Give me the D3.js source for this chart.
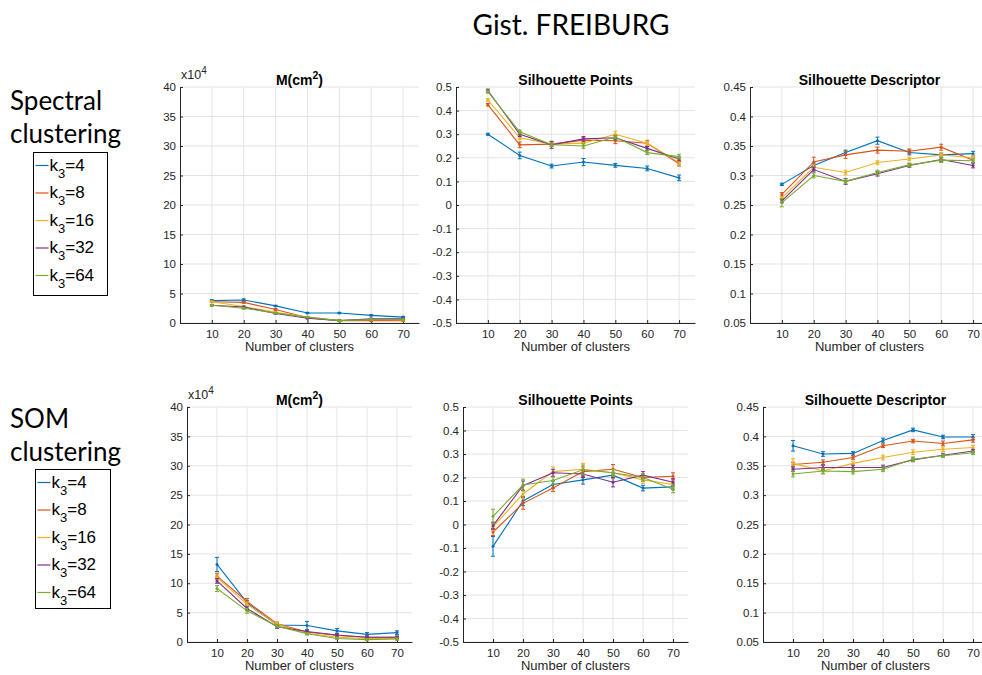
<!DOCTYPE html>
<html><head><meta charset="utf-8">
<script src="https://cdn.jsdelivr.net/npm/d3@7"></script>
<style>body{margin:0;background:#fff}svg{display:block}</style>
</head><body>
<svg id="fig" width="982" height="675"></svg>
<script>
// Number of clusters on the x axis
const clusters = [10, 20, 30, 40, 50, 60, 70];
const seriesNames = ["4", "8", "16", "32", "64"];
const seriesColors = ["#0072BD", "#D95319", "#EDB120", "#7E2F8E", "#77AC30"];

const xTicks = [10, 20, 30, 40, 50, 60, 70];
const mTicks = [0, 5, 10, 15, 20, 25, 30, 35, 40];
const spTicks = [-0.5, -0.4, -0.3, -0.2, -0.1, 0, 0.1, 0.2, 0.3, 0.4, 0.5];
const sdTicks = [0.05, 0.1, 0.15, 0.2, 0.25, 0.3, 0.35, 0.4, 0.45];

// Spectral clustering: M (x10^4 cm^2), one row per k3
const spectralM = [
  [3.8, 3.9, 2.9, 1.7, 1.7, 1.3, 1.0],
  [3.6, 3.5, 2.3, 0.9, 0.4, 0.4, 0.4],
  [3.6, 2.8, 1.8, 1.0, 0.4, 0.6, 0.5],
  [3.0, 2.7, 1.6, 0.8, 0.4, 0.7, 0.7],
  [3.0, 2.5, 1.7, 1.0, 0.4, 0.6, 0.6]
];
const spectralMErr = [
  [0.15, 0.2, 0.1, 0.1, 0.1, 0.1, 0.1],
  [0.15, 0.15, 0.15, 0.1, 0.1, 0.1, 0.1],
  [0.1, 0.1, 0.1, 0.1, 0.1, 0.1, 0.1],
  [0.1, 0.15, 0.1, 0.1, 0.1, 0.1, 0.1],
  [0.1, 0.15, 0.1, 0.1, 0.1, 0.1, 0.1]
];

// Spectral clustering: silhouette of points
const spectralSP = [
  [0.300, 0.210, 0.165, 0.182, 0.168, 0.155, 0.115],
  [0.425, 0.255, 0.258, 0.275, 0.272, 0.262, 0.175],
  [0.445, 0.285, 0.258, 0.262, 0.300, 0.262, 0.180],
  [0.485, 0.300, 0.255, 0.280, 0.285, 0.240, 0.195],
  [0.480, 0.310, 0.255, 0.250, 0.288, 0.222, 0.205]
];
const spectralSPErr = [
  [0.004, 0.014, 0.008, 0.015, 0.008, 0.010, 0.012],
  [0.005, 0.012, 0.010, 0.010, 0.012, 0.012, 0.010],
  [0.005, 0.008, 0.008, 0.008, 0.012, 0.008, 0.010],
  [0.006, 0.010, 0.015, 0.010, 0.008, 0.008, 0.008],
  [0.006, 0.008, 0.008, 0.010, 0.008, 0.008, 0.010]
];

// Spectral clustering: silhouette of descriptors
const spectralSD = [
  [0.285, 0.317, 0.339, 0.359, 0.339, 0.335, 0.337],
  [0.268, 0.323, 0.335, 0.343, 0.341, 0.348, 0.326],
  [0.262, 0.314, 0.305, 0.322, 0.328, 0.335, 0.330],
  [0.257, 0.310, 0.290, 0.303, 0.317, 0.327, 0.317],
  [0.254, 0.300, 0.290, 0.305, 0.318, 0.326, 0.325]
];
const spectralSDErr = [
  [0.002, 0.004, 0.004, 0.006, 0.004, 0.003, 0.004],
  [0.003, 0.008, 0.006, 0.005, 0.004, 0.005, 0.004],
  [0.002, 0.004, 0.004, 0.003, 0.003, 0.003, 0.004],
  [0.003, 0.004, 0.005, 0.004, 0.003, 0.003, 0.004],
  [0.007, 0.004, 0.004, 0.004, 0.003, 0.004, 0.003]
];

// SOM clustering: M (x10^4 cm^2)
const somM = [
  [13.2, 6.7, 2.9, 2.8, 1.9, 1.3, 1.6],
  [11.2, 6.9, 3.1, 1.7, 1.1, 0.8, 0.8],
  [11.0, 6.4, 3.0, 1.5, 0.8, 0.6, 0.6],
  [10.4, 5.7, 2.6, 1.8, 1.2, 0.8, 0.8],
  [9.1, 5.3, 2.7, 1.4, 0.6, 0.4, 0.5]
];
const somMErr = [
  [1.2, 0.4, 0.3, 0.7, 0.4, 0.3, 0.3],
  [0.5, 0.5, 0.3, 0.2, 0.2, 0.2, 0.2],
  [0.4, 0.4, 0.3, 0.2, 0.2, 0.2, 0.2],
  [0.4, 0.3, 0.3, 0.2, 0.2, 0.2, 0.2],
  [0.5, 0.4, 0.3, 0.2, 0.2, 0.2, 0.2]
];

// SOM clustering: silhouette of points
const somSP = [
  [-0.093, 0.100, 0.170, 0.190, 0.210, 0.155, 0.160],
  [-0.032, 0.090, 0.155, 0.225, 0.235, 0.200, 0.205],
  [-0.010, 0.130, 0.225, 0.235, 0.220, 0.190, 0.170],
  [-0.005, 0.165, 0.220, 0.215, 0.180, 0.210, 0.180],
  [0.035, 0.168, 0.187, 0.233, 0.220, 0.200, 0.150]
];
const somSPErr = [
  [0.042, 0.020, 0.015, 0.018, 0.012, 0.012, 0.012],
  [0.015, 0.025, 0.015, 0.020, 0.020, 0.015, 0.015],
  [0.015, 0.020, 0.020, 0.025, 0.015, 0.015, 0.015],
  [0.015, 0.020, 0.015, 0.015, 0.020, 0.015, 0.015],
  [0.030, 0.025, 0.015, 0.020, 0.015, 0.015, 0.015]
];

// SOM clustering: silhouette of descriptors
const somSD = [
  [0.384, 0.370, 0.371, 0.393, 0.411, 0.399, 0.399],
  [0.352, 0.356, 0.364, 0.384, 0.392, 0.388, 0.394],
  [0.354, 0.341, 0.354, 0.364, 0.373, 0.378, 0.381],
  [0.344, 0.347, 0.347, 0.347, 0.360, 0.368, 0.375],
  [0.336, 0.341, 0.340, 0.344, 0.361, 0.367, 0.372]
];
const somSDErr = [
  [0.009, 0.004, 0.003, 0.004, 0.003, 0.003, 0.004],
  [0.004, 0.004, 0.003, 0.003, 0.003, 0.004, 0.004],
  [0.008, 0.004, 0.004, 0.004, 0.004, 0.004, 0.004],
  [0.004, 0.004, 0.004, 0.004, 0.003, 0.003, 0.003],
  [0.005, 0.005, 0.004, 0.004, 0.004, 0.003, 0.003]
];

const svg = d3.select("#fig");
const AX = "#262626";
const GRID = "#e3e3e3";
const HELV = "'Liberation Sans', Arial, Helvetica, sans-serif";
const HUMAN = "Lato, 'Open Sans', sans-serif";

svg.append("rect").attr("width", 982).attr("height", 675).attr("fill", "#fff");

// Figure heading and row labels
svg.append("text").attr("x", 571).attr("y", 35).attr("text-anchor", "middle")
  .attr("font-family", HUMAN).attr("font-size", 28).attr("fill", "#000")
  .text("Gist. FREIBURG");

function rowLabel(lines, x, y0) {
  lines.forEach((t, i) => {
    svg.append("text").attr("x", x).attr("y", y0 + i * 33)
      .attr("font-family", HUMAN).attr("font-size", 26).attr("fill", "#000").text(t);
  });
}
rowLabel(["Spectral", "clustering"], 10, 110);
rowLabel(["SOM", "clustering"], 10, 428);

function legend(x, y, w, h, rowStep) {
  const g = svg.append("g").attr("transform", `translate(${x},${y})`);
  g.append("rect").attr("width", w).attr("height", h).attr("fill", "#fff")
    .attr("stroke", "#000").attr("stroke-width", 1);
  seriesNames.forEach((name, i) => {
    const cy = 13 + i * rowStep;
    g.append("line").attr("x1", 2).attr("x2", 15).attr("y1", cy).attr("y2", cy)
      .attr("stroke", seriesColors[i]).attr("stroke-width", 1.2);
    const t = g.append("text").attr("x", 16).attr("y", cy + 5)
      .attr("font-family", HELV).attr("font-size", 17).attr("fill", "#000");
    t.append("tspan").text("k");
    t.append("tspan").attr("dy", 7).attr("font-size", 13).text("3");
    t.append("tspan").attr("dy", -7).text("=" + name);
  });
}
legend(33.5, 152.5, 74, 143, 27.5);
legend(35.5, 469.5, 75, 139, 27.5);

function fmt(v) {
  if (Math.abs(v) < 1e-9) return "0";
  return String(+v.toFixed(2));
}

function panel(opt) {
  const { left, top, width, height, domain, ticks, title, data, err, sci } = opt;
  const x = d3.scaleLinear().domain([0, 75]).range([left, left + width]);
  const y = d3.scaleLinear().domain(domain).range([top + height, top]);
  const g = svg.append("g");

  // grid
  g.selectAll(".gy").data(ticks).join("line")
    .attr("x1", left).attr("x2", left + width)
    .attr("y1", d => y(d)).attr("y2", d => y(d))
    .attr("stroke", GRID).attr("stroke-width", 1);
  g.selectAll(".gx").data(xTicks).join("line")
    .attr("x1", d => x(d)).attr("x2", d => x(d))
    .attr("y1", top).attr("y2", top + height)
    .attr("stroke", GRID).attr("stroke-width", 1);

  // axes
  const yAxis = d3.axisLeft(y).tickValues(ticks).tickFormat(fmt).tickSizeInner(-3).tickSizeOuter(0).tickPadding(4);
  const xAxis = d3.axisBottom(x).tickValues(xTicks).tickFormat(d3.format("d")).tickSizeInner(-3).tickSizeOuter(0).tickPadding(7);
  const ya = g.append("g").attr("transform", `translate(${left},0)`).call(yAxis);
  const xa = g.append("g").attr("transform", `translate(0,${top + height})`).call(xAxis);
  [ya, xa].forEach(a => {
    a.select(".domain").attr("stroke", AX);
    a.selectAll(".tick line").attr("stroke", AX);
    a.selectAll("text").attr("fill", AX).attr("font-family", HELV).attr("font-size", 11.5);
  });

  // title and axis label
  const tt = g.append("text").attr("x", left + width / 2).attr("y", top - 2)
    .attr("text-anchor", "middle").attr("font-family", HELV).attr("font-weight", "bold")
    .attr("font-size", 14).attr("fill", "#000");
  if (title === "M") {
    tt.append("tspan").text("M(cm");
    tt.append("tspan").attr("dy", -6).attr("font-size", 10.5).text("2");
    tt.append("tspan").attr("dy", 6).text(")");
  } else {
    tt.text(title);
  }
  g.append("text").attr("x", left + width / 2).attr("y", top + height + 28)
    .attr("text-anchor", "middle").attr("font-family", HELV).attr("font-size", 13)
    .attr("fill", AX).text("Number of clusters");
  if (sci) {
    const s = g.append("text").attr("x", left + 1).attr("y", top - 8)
      .attr("font-family", HELV).attr("font-size", 12.5).attr("fill", AX);
    s.append("tspan").text("x10");
    s.append("tspan").attr("dy", -5).attr("font-size", 10).text("4");
  }

  // series
  const line = d3.line().x((d, i) => x(clusters[i])).y(d => y(d));
  data.forEach((vals, si) => {
    const c = seriesColors[si];
    const sg = g.append("g");
    sg.append("path").attr("d", line(vals)).attr("fill", "none")
      .attr("stroke", c).attr("stroke-width", 1.1);
    vals.forEach((v, i) => {
      const e = err[si][i];
      const cx = x(clusters[i]);
      sg.append("line").attr("x1", cx).attr("x2", cx).attr("y1", y(v - e)).attr("y2", y(v + e))
        .attr("stroke", c).attr("stroke-width", 1);
      [v - e, v + e].forEach(b => {
        sg.append("line").attr("x1", cx - 2).attr("x2", cx + 2).attr("y1", y(b)).attr("y2", y(b))
          .attr("stroke", c).attr("stroke-width", 1);
      });
      sg.append("circle").attr("cx", cx).attr("cy", y(v)).attr("r", 1.5).attr("fill", c);
    });
  });
}

const topRow = { top: 87, height: 236, width: 239 };
const botRow = { top: 407, height: 235, width: 225 };

panel({ ...topRow, left: 180, domain: [0, 40], ticks: mTicks, title: "M", data: spectralM, err: spectralMErr, sci: true });
panel({ ...topRow, left: 456, domain: [-0.5, 0.5], ticks: spTicks, title: "Silhouette Points", data: spectralSP, err: spectralSPErr });
panel({ ...topRow, left: 750, domain: [0.05, 0.45], ticks: sdTicks, title: "Silhouette Descriptor", data: spectralSD, err: spectralSDErr });

panel({ ...botRow, left: 187, domain: [0, 40], ticks: mTicks, title: "M", data: somM, err: somMErr, sci: true });
panel({ ...botRow, left: 463, domain: [-0.5, 0.5], ticks: spTicks, title: "Silhouette Points", data: somSP, err: somSPErr });
panel({ ...botRow, left: 763, domain: [0.05, 0.45], ticks: sdTicks, title: "Silhouette Descriptor", data: somSD, err: somSDErr });
</script>
</body></html>
